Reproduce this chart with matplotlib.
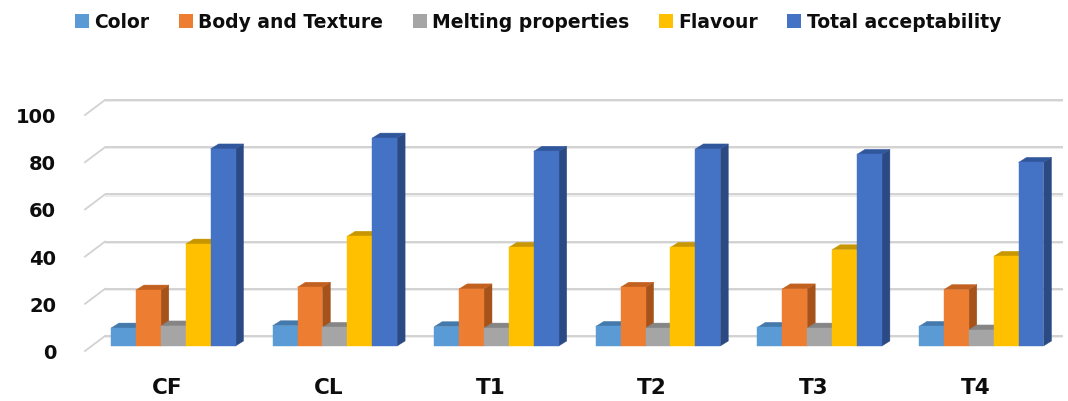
import matplotlib
matplotlib.use("Agg")
import matplotlib.pyplot as plt
from matplotlib.patches import Polygon, Patch
import numpy as np

# ---- data -------------------------------------------------------------
categories = ["CF", "CL", "T1", "T2", "T3", "T4"]
series_names = ["Color", "Body and Texture", "Melting properties",
                "Flavour", "Total acceptability"]
color_scores = [7.6, 8.6, 8.2, 8.3, 7.9, 8.3]
body_texture = [23.7, 24.9, 24.2, 24.9, 24.2, 23.9]
melting_props = [8.5, 7.9, 7.6, 7.6, 7.6, 6.8]
flavour = [43.2, 46.5, 41.8, 41.8, 40.8, 38.0]
total_accept = [83.5, 88.1, 82.5, 83.5, 81.2, 77.8]
y_ticks = [0, 20, 40, 60, 80, 100]

# ---- styling ----------------------------------------------------------
front_cols = ["#5B9BD5", "#ED7D31", "#A5A5A5", "#FFC000", "#4472C4"]
top_cols = ["#4479AC", "#C2601F", "#858585", "#C79600", "#30569C"]
side_cols = ["#3D6D9C", "#A6531B", "#747474", "#A98000", "#2B4A84"]
grid_col = "#d2d2d2"
text_col = "#0d0d0d"

W, H = 1068, 402
fig = plt.figure(figsize=(W / 100, H / 100), dpi=100)
ax = fig.add_axes([0, 0, 1, 1])
ax.axis("off")

# pixel scale of the pseudo-3D layout
PX_X = 161.6       # pixels per category step
PX_Y = 2.36        # pixels per score unit
X0 = 173.25        # pixel column of first group centre
BASE = 347         # pixel row (from top) of bar bases
ax.set_xlim(-X0 / PX_X, (W - X0) / PX_X)
ax.set_ylim(-(H - BASE) / PX_Y, BASE / PX_Y)

def px_x(p):
    return (p - X0) / PX_X

def px_dy(p):
    return p / PX_Y

# ---- back wall gridlines and floor-edge diagonals ----------------------
wall_left = px_x(105)
wall_right = px_x(1063)
front_left = px_x(85)
wall_up = px_dy(10)
front_down = px_dy(-5)
for v in y_ticks:
    ax.plot([wall_left, wall_right], [v + wall_up - px_dy(1.2)] * 2,
            color="#ececec", lw=1.3, zorder=1, solid_capstyle="butt")
    ax.plot([wall_left, wall_right], [v + wall_up] * 2,
            color=grid_col, lw=1.4, zorder=1, solid_capstyle="butt")
    ax.plot([front_left, wall_left], [v + front_down, v + wall_up],
            color=grid_col, lw=1.3, zorder=1)
    ax.text(px_x(56), v + front_down - px_dy(1.5), str(v),
            ha="right", va="center", fontsize=14, fontweight="bold",
            color=text_col)

# ---- bars ---------------------------------------------------------------
series = [color_scores, body_texture, melting_props, flavour, total_accept]
n = len(series)
bw = 24.9 / PX_X
ddx = 8 / PX_X
ddy = px_dy(5)
xs = np.arange(len(categories))

for s_i, vals in enumerate(series):
    z = 2 + s_i
    lefts = xs - n * bw / 2 + s_i * bw
    ax.bar(lefts, vals, width=bw, align="edge", color=front_cols[s_i],
           edgecolor=front_cols[s_i], linewidth=0.3, zorder=z + 0.5)
    for l, v in zip(lefts, vals):
        r = l + bw
        side = Polygon([(r, 0), (r + ddx, ddy), (r + ddx, v + ddy), (r, v)],
                       closed=True, facecolor=side_cols[s_i],
                       edgecolor=side_cols[s_i], linewidth=0.3, zorder=z)
        top = Polygon([(l, v), (r, v), (r + ddx, v + ddy), (l + ddx, v + ddy)],
                      closed=True, facecolor=top_cols[s_i],
                      edgecolor=top_cols[s_i], linewidth=0.3, zorder=z)
        ax.add_patch(side)
        ax.add_patch(top)

# ---- category labels ------------------------------------------------------
for x, c in zip(xs, categories):
    ax.text(x - 6 / PX_X, -px_dy(388 - BASE), c, ha="center", va="center",
            fontsize=15.5, fontweight="bold", color=text_col)

# ---- legend -----------------------------------------------------------------
handles = [Patch(facecolor=front_cols[i], edgecolor="none", label=series_names[i])
           for i in range(n)]
leg = fig.legend(handles=handles, loc="center", ncol=n,
                 bbox_to_anchor=(538 / W, 1 - 23 / H), frameon=False,
                 prop={"size": 13.5, "weight": "bold"},
                 handlelength=0.75, handleheight=0.75, handletextpad=0.3,
                 columnspacing=1.55, borderaxespad=0, borderpad=0)
for t in leg.get_texts():
    t.set_color(text_col)

fig.savefig("out.png", dpi=100, facecolor="white")
